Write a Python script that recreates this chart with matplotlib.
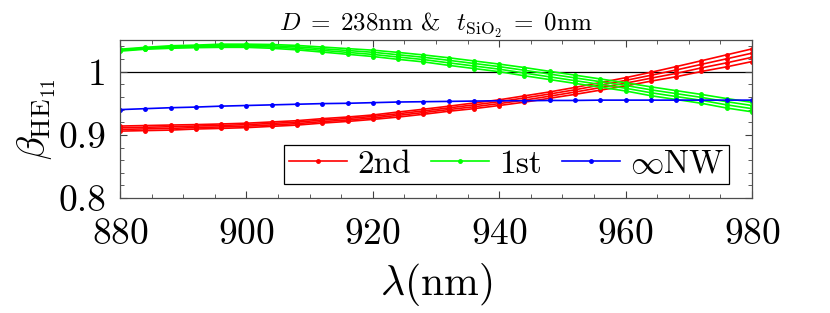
import numpy as np
import matplotlib
matplotlib.use("Agg")
import matplotlib.pyplot as plt
from matplotlib.ticker import MultipleLocator

plt.rcParams['font.family'] = 'serif'
plt.rcParams['font.serif'] = ['cmr10']
plt.rcParams['mathtext.fontset'] = 'cm'
plt.rcParams['axes.formatter.use_mathtext'] = True

# wavelength samples (nm)
wl = [880, 884, 888, 892, 896, 900, 904, 908, 912, 916, 920, 924, 928,
      932, 936, 940, 944, 948, 952, 956, 960, 964, 968, 972, 976, 980]

# 2nd (red) bundle
red_1 = [0.914, 0.9148, 0.9156, 0.9163, 0.9173, 0.9185, 0.9205, 0.9225, 0.9257, 0.9283, 0.9315, 0.9362, 0.9406,
         0.9454, 0.9505, 0.9555, 0.9618, 0.968, 0.9751, 0.9828, 0.9905, 0.999, 1.008, 1.0173, 1.0267, 1.036]
red_2 = [0.9113, 0.9121, 0.9129, 0.914, 0.915, 0.9162, 0.9182, 0.9202, 0.9234, 0.926, 0.9292, 0.9335, 0.9379,
         0.9427, 0.9475, 0.9525, 0.9585, 0.9647, 0.9714, 0.9788, 0.9862, 0.9943, 1.0027, 1.0116, 1.0204, 1.0293]
red_3 = [0.9087, 0.9095, 0.9103, 0.9116, 0.9126, 0.9138, 0.9158, 0.9178, 0.921, 0.9236, 0.9268, 0.9309, 0.9353,
         0.9401, 0.9445, 0.9495, 0.9551, 0.9613, 0.9678, 0.9748, 0.9818, 0.9897, 0.9973, 1.006, 1.014, 1.0227]
red_4 = [0.906, 0.9068, 0.9076, 0.9093, 0.9103, 0.9115, 0.9135, 0.9155, 0.9187, 0.9213, 0.9245, 0.9282, 0.9326,
         0.9374, 0.9415, 0.9465, 0.9518, 0.958, 0.9641, 0.9708, 0.9775, 0.985, 0.992, 1.0003, 1.0077, 1.016]

# 1st (green) bundle
green_1 = [1.0355, 1.0385, 1.041, 1.042, 1.0435, 1.0435, 1.043, 1.0415, 1.039, 1.0365, 1.034, 1.0305, 1.0265,
           1.022, 1.017, 1.012, 1.0065, 1.0005, 0.9945, 0.9885, 0.9825, 0.976, 0.970, 0.964, 0.9575, 0.9515]
green_2 = [1.0345, 1.0375, 1.0397, 1.0407, 1.0418, 1.0418, 1.041, 1.0392, 1.0363, 1.0335, 1.0307, 1.0268, 1.0228,
           1.018, 1.013, 1.008, 1.0022, 0.9962, 0.9902, 0.9842, 0.9782, 0.9713, 0.9653, 0.9593, 0.9525, 0.9465]
green_3 = [1.0335, 1.0365, 1.0383, 1.0393, 1.0402, 1.0402, 1.039, 1.0368, 1.0337, 1.0305, 1.0273, 1.0232, 1.0192,
           1.014, 1.009, 1.004, 0.9978, 0.9918, 0.9858, 0.9798, 0.9738, 0.9667, 0.9607, 0.9547, 0.9475, 0.9415]
green_4 = [1.0325, 1.0355, 1.037, 1.038, 1.0385, 1.0385, 1.037, 1.0345, 1.031, 1.0275, 1.024, 1.0195, 1.0155,
           1.010, 1.005, 1.000, 0.9935, 0.9875, 0.9815, 0.9755, 0.9695, 0.962, 0.956, 0.950, 0.9425, 0.9365]

# infinite NW (blue)
blue = [0.940, 0.9415, 0.943, 0.944, 0.9455, 0.9465, 0.9475, 0.9485, 0.9495, 0.950, 0.951, 0.952, 0.9525,
        0.953, 0.9535, 0.954, 0.954, 0.9545, 0.9545, 0.955, 0.955, 0.955, 0.955, 0.955, 0.955, 0.955]

fig = plt.figure(figsize=(8.3, 3.13), dpi=100)
ax = fig.add_axes([0.1446, 0.367, 0.7614, 0.505])

mk = dict(marker='.', markersize=5, linewidth=1.2)
ax.axhline(1.0, color='black', linewidth=0.9, zorder=1)
for i, r in enumerate([red_1, red_2, red_3, red_4]):
    ax.plot(wl, r, color=(1, 0, 0), label='2nd' if i == 0 else None, **mk)
for i, g in enumerate([green_1, green_2, green_3, green_4]):
    ax.plot(wl, g, color=(0, 1, 0), label='1st' if i == 0 else None, **mk)
ax.plot(wl, blue, color=(0, 0, 1), label=r'$\infty$NW', **mk)

ax.set_xlim(880, 980)
ax.set_ylim(0.8, 1.05)
ax.set_xticks([880, 900, 920, 940, 960, 980])
ax.set_yticks([0.8, 0.9, 1.0])
ax.set_yticklabels(['0.8', '0.9', '1'])
ax.xaxis.set_minor_locator(MultipleLocator(5))
ax.yaxis.set_minor_locator(MultipleLocator(0.02))
ax.tick_params(which='both', direction='in', top=True, right=True, labelsize=27, color='0.25')
ax.tick_params(which='major', length=5)
ax.tick_params(which='minor', length=3)
ax.tick_params(axis='x', pad=14)
ax.tick_params(axis='y', pad=10)
for s in ax.spines.values():
    s.set_color('0.3')
    s.set_linewidth(0.9)

ax.set_xlabel(r'$\lambda$(nm)', fontsize=30, labelpad=7)
ax.set_ylabel(r'$\beta_{\mathrm{HE}_{11}}$', fontsize=28, labelpad=0)
ax.set_title(r'$D\;=\;238\mathrm{nm}$ &  $t_{\mathrm{SiO}_2}\;=\;0\mathrm{nm}$', fontsize=18, pad=5)

leg = ax.legend(loc='lower right', bbox_to_anchor=(0.9636, 0.0886), ncol=3, fontsize=24,
                handlelength=1.75, handletextpad=0.3, columnspacing=0.6, borderpad=0.15,
                borderaxespad=0, fancybox=False, framealpha=1, edgecolor='black')
leg.get_frame().set_linewidth(0.9)

fig.savefig('out.png', dpi=100)
